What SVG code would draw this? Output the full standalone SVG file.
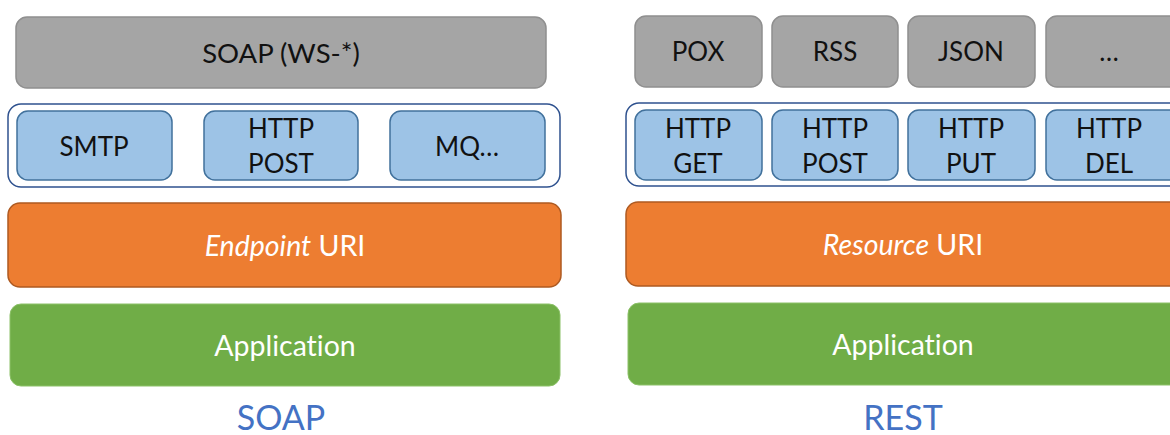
<svg xmlns="http://www.w3.org/2000/svg" width="1170" height="435" viewBox="0 0 1170 435">
<style>
text{font-family:Lato,"Open Sans","Liberation Sans",sans-serif;text-anchor:middle;dominant-baseline:central;font-variant-ligatures:none;font-feature-settings:"liga" 0,"clig" 0}
.gray{fill:#A5A5A5;stroke:#8F8F8F;stroke-width:1.5}
.blue{fill:#9DC3E6;stroke:#41719C;stroke-width:1.5}
.frame{fill:#FFFFFF;stroke:#2F528F;stroke-width:1.5}
.orange{fill:#ED7D31;stroke:#AE5A21;stroke-width:1.5}
.green{fill:#70AD47;stroke:#8CC168;stroke-width:1}
.dark{fill:#111111;font-size:26px}
.big{font-size:27.5px}
.white{fill:#FFFFFF;font-size:28.5px}
.title{fill:#4472C4;font-size:34px}
</style>
<g id="soap-side">
<g id="soap-ws"><rect class="gray" x="16" y="17" width="530" height="71" rx="11"/><text class="dark big" x="281" y="52">SOAP (WS-*)</text></g>
<g id="soap-transports"><rect class="frame" x="8" y="104" width="552" height="83" rx="13"/></g>
<g id="smtp"><rect class="blue" x="17" y="111" width="155" height="69" rx="11"/><text class="dark" x="94" y="146">SMTP</text></g>
<g id="soap-http-post"><rect class="blue" x="204" y="111" width="154" height="69" rx="11"/><text class="dark" x="281" y="128">HTTP</text><text class="dark" x="281" y="163">POST</text></g>
<g id="mq"><rect class="blue" x="390" y="111" width="155" height="69" rx="11"/><text class="dark" x="467" y="146">MQ…</text></g>
<g id="endpoint-uri"><rect class="orange" x="8" y="203" width="553" height="84" rx="12"/><text class="white" x="285" y="245"><tspan font-style="italic">Endpoint</tspan> URI</text></g>
<g id="soap-application"><rect class="green" x="10" y="304" width="550" height="82" rx="11"/><text class="white" x="285" y="345">Application</text></g>
<g id="soap-label"><text class="title" x="281" y="416">SOAP</text></g>
</g>
<g id="rest-side">
<g id="pox"><rect class="gray" x="635" y="16" width="127" height="71" rx="11"/><text class="dark" x="698" y="51">POX</text></g>
<g id="rss"><rect class="gray" x="772" y="16" width="126" height="71" rx="11"/><text class="dark" x="835" y="51">RSS</text></g>
<g id="json"><rect class="gray" x="908" y="16" width="127" height="71" rx="11"/><text class="dark" x="971" y="51">JSON</text></g>
<g id="more"><rect class="gray" x="1046" y="16" width="135" height="71" rx="11"/><text class="dark" x="1109" y="51">…</text></g>
<g id="rest-methods"><rect class="frame" x="626" y="103" width="560" height="83" rx="13"/></g>
<g id="http-get"><rect class="blue" x="635" y="110" width="127" height="70" rx="11"/><text class="dark" x="698" y="128">HTTP</text><text class="dark" x="698" y="163">GET</text></g>
<g id="http-post"><rect class="blue" x="772" y="110" width="126" height="70" rx="11"/><text class="dark" x="835" y="128">HTTP</text><text class="dark" x="835" y="163">POST</text></g>
<g id="http-put"><rect class="blue" x="908" y="110" width="127" height="70" rx="11"/><text class="dark" x="971" y="128">HTTP</text><text class="dark" x="971" y="163">PUT</text></g>
<g id="http-del"><rect class="blue" x="1046" y="110" width="135" height="70" rx="11"/><text class="dark" x="1109" y="128">HTTP</text><text class="dark" x="1109" y="163">DEL</text></g>
<g id="resource-uri"><rect class="orange" x="626" y="202" width="560" height="84" rx="12"/><text class="white" x="903" y="244"><tspan font-style="italic">Resource</tspan> URI</text></g>
<g id="rest-application"><rect class="green" x="628" y="303" width="558" height="82" rx="11"/><text class="white" x="903" y="344">Application</text></g>
<g id="rest-label"><text class="title" x="903" y="416">REST</text></g>
</g>
<g id="connectors"/>
</svg>
